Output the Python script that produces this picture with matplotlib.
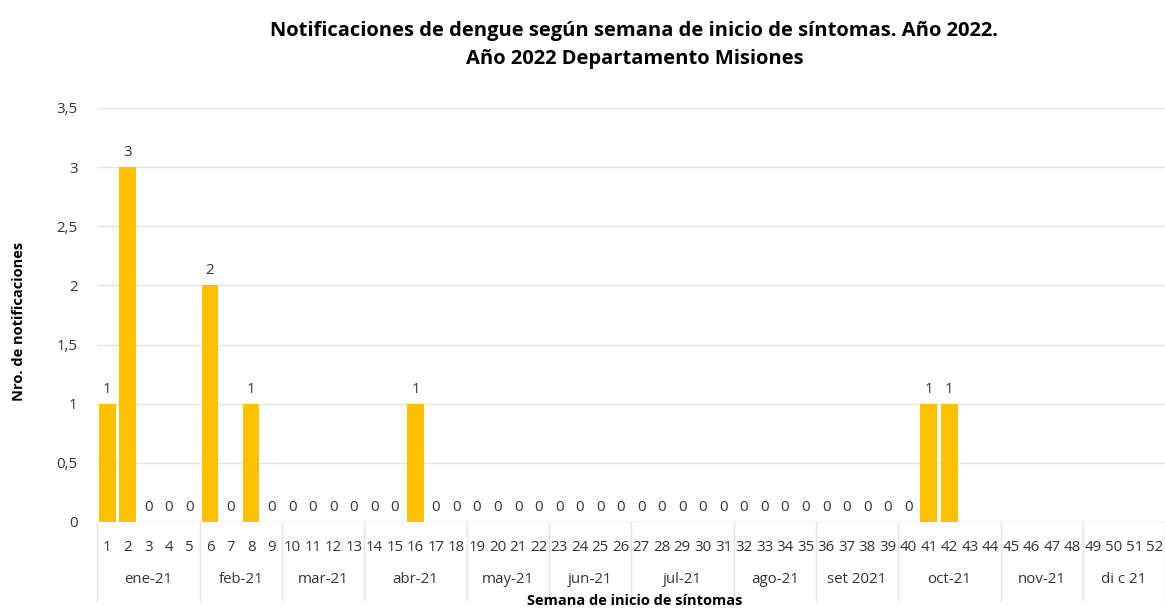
import numpy as np
import matplotlib.pyplot as plt
import matplotlib.transforms as mtransforms

plt.rcParams['font.family'] = ['Open Sans', 'DejaVu Sans']

# semanas epidemiologicas 1..52, datos solo hasta la 42
semanas = [str(i) for i in range(1, 53)]
casos = [1, 3, 0, 0, 0, 2, 0, 1, 0, 0, 0, 0, 0, 0, 0, 1, 0, 0, 0, 0, 0,
         0, 0, 0, 0, 0, 0, 0, 0, 0, 0, 0, 0, 0, 0, 0, 0, 0, 0, 0, 1, 1]
meses = ['ene-21', 'feb-21', 'mar-21', 'abr-21', 'may-21', 'jun-21',
         'jul-21', 'ago-21', 'set 2021', 'oct-21', 'nov-21', 'di c 21']
semanas_por_mes = [5, 4, 4, 5, 4, 4, 5, 4, 4, 5, 4, 4]

fig = plt.figure(figsize=(11.65, 6.09), dpi=100)
ax = fig.add_axes([0.0833, 0.1429, 0.9167, 0.6798])

x = np.arange(len(casos))
bars = ax.bar(x, casos, width=0.82, color='#FFC000', zorder=3)
for xi, v in zip(x, casos):
    ax.text(xi, v + 0.06, str(v), ha='center', va='bottom', fontsize=10.8, color='#333333')

ax.set_xlim(-0.5, len(semanas) - 0.5)
ax.set_ylim(0, 3.5)
ax.set_yticks(np.arange(0, 3.51, 0.5))
ax.set_yticklabels(['0', '0,5', '1', '1,5', '2', '2,5', '3', '3,5'])
ax.set_xticks(np.arange(len(semanas)))
ax.set_xticklabels(semanas)
ax.tick_params(axis='both', length=0, labelsize=10.8, colors='#333333')
ax.tick_params(axis='x', pad=13)
ax.tick_params(axis='y', pad=14)
ax.grid(axis='y', color='#e3e3e3', linewidth=1, zorder=0)
for s in ax.spines.values():
    s.set_visible(False)
ax.axhline(0, color='#d9d9d9', linewidth=1, zorder=2)

# etiquetas de meses y separadores
trans = mtransforms.blended_transform_factory(ax.transData, ax.transAxes)
inicio = -0.5
ax.plot([inicio, inicio], [0, -0.19], transform=trans, color='#e3e3e3', lw=1, clip_on=False)
for mes, n in zip(meses, semanas_por_mes):
    fin = inicio + n
    ax.plot([fin, fin], [0, -0.19], transform=trans, color='#e3e3e3', lw=1, clip_on=False)
    ax.text((inicio + fin) / 2, -0.14, mes, transform=trans, ha='center', va='center',
            fontsize=10.8, color='#333333')
    inicio = fin

fig.text(0.5445, 0.002, 'Semana de inicio de síntomas', ha='center', va='bottom',
         fontsize=10.5, fontweight='bold')
fig.text(0.016, 0.473, 'Nro. de notificaciones', rotation=90, ha='center', va='center',
         fontsize=10.5, fontweight='bold')
fig.text(0.5445, 0.965, 'Notificaciones de dengue según semana de inicio de síntomas. Año 2022.\n'
         'Año 2022 Departamento Misiones', ha='center', va='top', fontsize=14.5,
         fontweight='bold', linespacing=1.5)

fig.savefig('out.png', dpi=100)
